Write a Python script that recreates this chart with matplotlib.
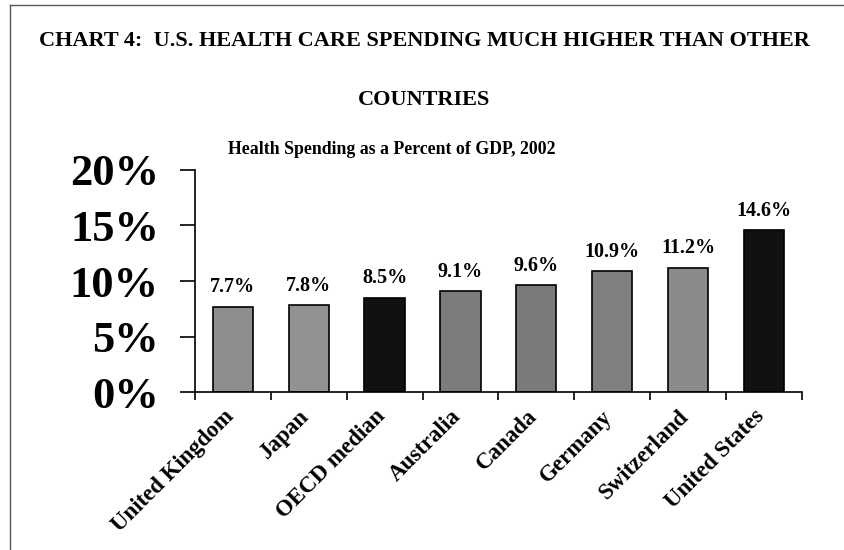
# bar chart: health spending as a percent of GDP
import matplotlib
matplotlib.use("Agg")
import matplotlib.pyplot as plt
import matplotlib.transforms as mtransforms
from matplotlib.lines import Line2D

plt.rcParams['font.family'] = ['Liberation Serif', 'DejaVu Serif']
plt.rcParams['font.weight'] = 'bold'

# data
countries = ["United Kingdom", "Japan", "OECD median", "Australia",
             "Canada", "Germany", "Switzerland", "United States"]
spending = [7.7, 7.8, 8.5, 9.1, 9.6, 10.9, 11.2, 14.6]
value_labels = ["7.7%", "7.8%", "8.5%", "9.1%", "9.6%", "10.9%", "11.2%", "14.6%"]
y_ticks = [0, 5, 10, 15, 20]
y_tick_labels = ["0%", "5%", "10%", "15%", "20%"]
bar_colors = ["#8e8e8e", "#929292", "#111111", "#7c7c7c",
              "#7a7a7a", "#808080", "#8a8a8a", "#111111"]

fig = plt.figure(figsize=(8.44, 5.5), dpi=100)
ax = fig.add_axes([0.231, 0.287, 0.719, 0.404])

x = range(len(countries))
ax.bar(x, spending, width=0.53, color=bar_colors, edgecolor="black", linewidth=1.2)

for i, v in enumerate(spending):
    ax.text(i, v + 0.85, value_labels[i], ha="center", va="bottom",
            fontsize=14.5, fontweight="bold")

ax.set_xlim(-0.5, len(countries) - 0.5)
ax.set_ylim(0, 20)

# y axis
ax.set_yticks(y_ticks)
ax.set_yticklabels(y_tick_labels, fontsize=32, fontweight="bold")
ax.tick_params(axis="y", direction="out", length=11, width=1.2, pad=15)

# x axis: labels at bar centres, ticks at category boundaries
ax.set_xticks(list(x))
ax.set_xticklabels(countries, rotation=45, ha="right", rotation_mode="anchor",
                   fontsize=16.5, fontweight="bold")
ax.tick_params(axis="x", which="major", length=0, pad=10)
ax.set_xticks([i - 0.5 for i in range(len(countries) + 1)], minor=True)
ax.tick_params(axis="x", which="minor", direction="out", length=6, width=1.2)

# nudge the slanted labels left
shift = mtransforms.ScaledTranslation(-10 / 100, 0, fig.dpi_scale_trans)
for lbl in ax.get_xticklabels():
    lbl.set_transform(lbl.get_transform() + shift)

for side in ["top", "right"]:
    ax.spines[side].set_visible(False)
ax.spines["left"].set_linewidth(1.2)
ax.spines["bottom"].set_linewidth(1.2)

# titles
fig.text(0.503, 0.925, "CHART 4:  U.S. HEALTH CARE SPENDING MUCH HIGHER THAN OTHER",
         ha="center", va="center", fontsize=16, fontweight="bold")
fig.text(0.503, 0.818, "COUNTRIES", ha="center", va="center",
         fontsize=16, fontweight="bold")
fig.text(0.464, 0.729, "Health Spending as a Percent of GDP, 2002",
         ha="center", va="center", fontsize=12.8, fontweight="bold")

# page frame (left and top edges)
fig.add_artist(Line2D([10 / 844, 10 / 844], [0, 1 - 5 / 550],
                      transform=fig.transFigure, color="#555555", linewidth=1))
fig.add_artist(Line2D([10 / 844, 1], [1 - 5 / 550, 1 - 5 / 550],
                      transform=fig.transFigure, color="#555555", linewidth=1))

fig.savefig("out.png", dpi=100)
